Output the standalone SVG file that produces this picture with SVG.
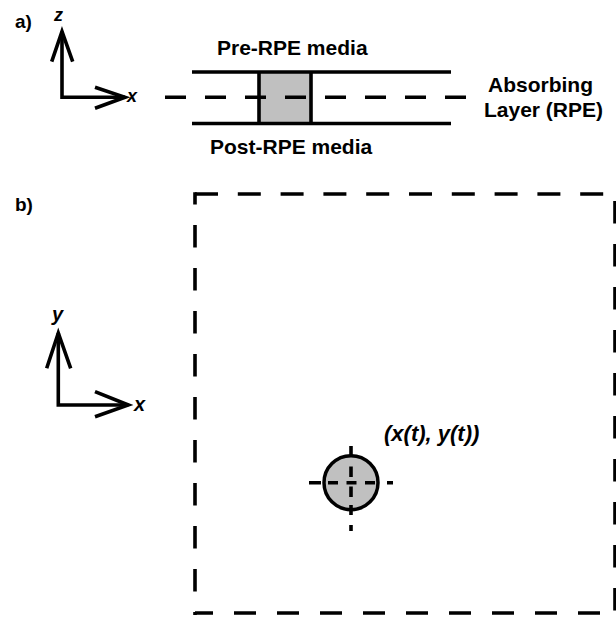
<svg xmlns="http://www.w3.org/2000/svg" width="616" height="617" viewBox="0 0 616 617">
  <style>
    text { font-family: "Liberation Sans", Arial, Helvetica, sans-serif; font-weight: bold; fill: #000; }
    .lbl { font-size: 21px; }
    .panel { font-size: 19px; }
    .ax { font-size: 18px; font-style: italic; }
    .axb { font-size: 20px; font-style: italic; }
    .ln { fill: none; stroke: #000; stroke-width: 3.6; stroke-linejoin: miter; stroke-linecap: butt; }
    .gray { fill: #c0c0c0; }
  </style>
  <rect width="616" height="617" fill="#fff"/>

  <!-- Panel a -->
  <text class="panel" x="15" y="28">a)</text>
  <g id="axes-a">
    <path class="ln" d="M62,31.5 V97.3 H125"/>
    <polyline class="ln" points="51.7,61.7 62,31.5 72.7,61.7"/>
    <polyline class="ln" points="95,87.3 125,97.3 95,108.3"/>
    <text class="ax" x="54" y="21">z</text>
    <text class="ax" x="127" y="102">x</text>
  </g>
  <g id="media-layers">
    <rect class="gray" x="259" y="72" width="52" height="51.5"/>
    <path class="ln" d="M192,72 H451 M192,123.5 H451 M259,72 V123.5 M311,72 V123.5"/>
    <text class="lbl" x="217" y="55">Pre-RPE media</text>
    <text class="lbl" x="210" y="153.5">Post-RPE media</text>
  </g>
  <g id="absorbing-layer">
    <path class="ln" d="M165,97.3 H466" stroke-dasharray="21 19"/>
    <text class="lbl" x="488" y="91.5">Absorbing</text>
    <text class="lbl" x="484" y="116.5">Layer (RPE)</text>
  </g>

  <!-- Panel b -->
  <text class="panel" x="15" y="211">b)</text>
  <g id="axes-b">
    <path class="ln" d="M58.3,333 V405 H128.3"/>
    <polyline class="ln" points="46.7,368.3 58.3,333 70.7,368.3"/>
    <polyline class="ln" points="95,391.7 128.3,405 95,416.7"/>
    <text class="axb" x="52" y="321">y</text>
    <text class="axb" x="134" y="411">x</text>
  </g>
  <g id="field-box">
    <path class="ln" d="M195,194 H616" stroke-dasharray="23 19.8"/>
    <path class="ln" d="M195,192.3 V615" stroke-dasharray="22.5 20.5" stroke-dashoffset="10.3"/>
    <path class="ln" d="M195,613 H616" stroke-dasharray="22 21" stroke-dashoffset="4"/>
    <path class="ln" d="M615,193 V613" stroke-width="4" stroke-dasharray="22.5 20.5" stroke-dashoffset="35"/>
  </g>
  <g id="particle">
    <circle class="gray" cx="351" cy="482.7" r="27" stroke="#000" stroke-width="3.5"/>
    <path class="ln" stroke-width="3.2" d="M309,482.7 H321 M328,482.7 H338 M346.5,482.7 H356.5 M365,482.7 H375 M387,482.7 H393 M351,446 V456 M351,466.5 V477 M351,486.5 V497 M351,505 V515 M351,525 V531"/>
    <text class="lbl" x="384" y="441" font-size="22" font-style="italic" style="font-size:22px">(x(t), y(t))</text>
  </g>
</svg>
